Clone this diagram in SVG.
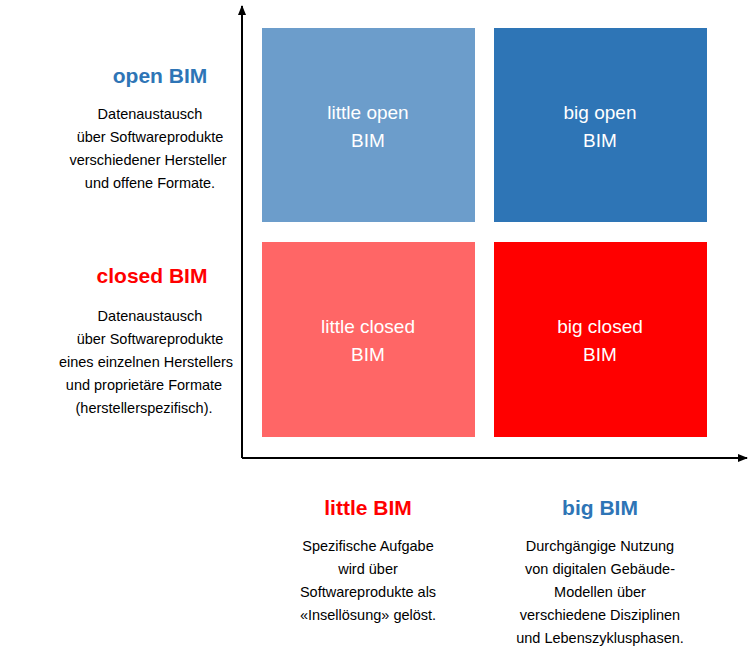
<svg xmlns="http://www.w3.org/2000/svg" width="754" height="652" viewBox="0 0 754 652">
<style>
text{font-family:"Liberation Sans",Arial,sans-serif;text-anchor:middle}
.box{font-size:19px;fill:#fff}
.h{font-size:21px;font-weight:bold}
.d{font-size:14.5px;fill:#000}
.ax{stroke:#000;stroke-width:2;fill:none}
</style>
<defs><marker id="ar" markerWidth="10" markerHeight="10" refX="9" refY="5" orient="auto" markerUnits="userSpaceOnUse"><path d="M0,1 L10,5 L0,9 Z" fill="#000"/></marker></defs>
<rect width="754" height="652" fill="#fff"/>
<g id="connectors">
<line class="ax" x1="242" y1="458" x2="242" y2="6" marker-end="url(#ar)"/>
<line class="ax" x1="242" y1="458" x2="747" y2="458" marker-end="url(#ar)"/>
</g>
<g id="little-open"><rect x="262" y="28" width="213" height="194" fill="#6C9DCB"/><text class="box" x="368" y="119">little open</text><text class="box" x="368" y="147">BIM</text></g>
<g id="big-open"><rect x="494" y="28" width="213" height="194" fill="#2E75B6"/><text class="box" x="600" y="119">big open</text><text class="box" x="600" y="147">BIM</text></g>
<g id="little-closed"><rect x="262" y="242" width="213" height="195" fill="#FF6666"/><text class="box" x="368" y="333">little closed</text><text class="box" x="368" y="361">BIM</text></g>
<g id="big-closed"><rect x="494" y="242" width="213" height="195" fill="#FF0000"/><text class="box" x="600" y="333">big closed</text><text class="box" x="600" y="361">BIM</text></g>
<g id="open-label"><text class="h" x="160" y="83" fill="#2E75B6">open BIM</text>
<text class="d" x="150" y="119">Datenaustausch</text><text class="d" x="150" y="142">über Softwareprodukte</text><text class="d" x="148" y="165">verschiedener Hersteller</text><text class="d" x="150" y="188">und offene Formate.</text></g>
<g id="closed-label"><text class="h" x="152" y="283" fill="#FF0000">closed BIM</text>
<text class="d" x="150" y="321">Datenaustausch</text><text class="d" x="150" y="344">über Softwareprodukte</text><text class="d" x="146" y="367">eines einzelnen Herstellers</text><text class="d" x="144" y="390">und proprietäre Formate</text><text class="d" x="144" y="413">(herstellerspezifisch).</text></g>
<g id="little-label"><text class="h" x="368" y="515" fill="#FF0000">little BIM</text>
<text class="d" x="368" y="551">Spezifische Aufgabe</text><text class="d" x="368" y="574">wird über</text><text class="d" x="368" y="597">Softwareprodukte als</text><text class="d" x="368" y="620">«Insellösung» gelöst.</text></g>
<g id="big-label"><text class="h" x="600" y="515" fill="#2E75B6">big BIM</text>
<text class="d" x="600" y="551">Durchgängige Nutzung</text><text class="d" x="600" y="574">von digitalen Gebäude-</text><text class="d" x="600" y="597">Modellen über</text><text class="d" x="600" y="620">verschiedene Disziplinen</text><text class="d" x="600" y="643">und Lebenszyklusphasen.</text></g>
</svg>
